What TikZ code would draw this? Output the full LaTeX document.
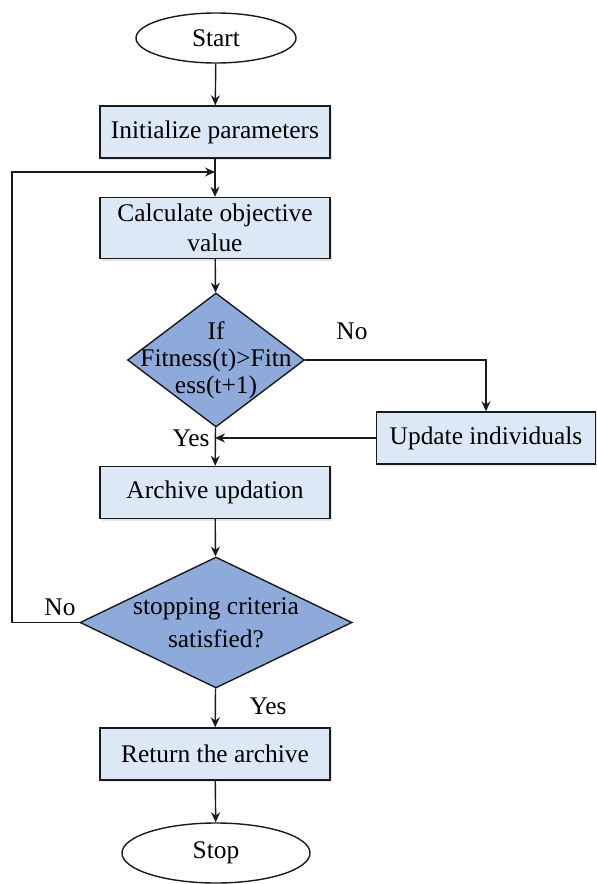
\documentclass[tikz,border=0pt]{standalone}
\usepackage{fontspec}
\setmainfont{Liberation Serif}
\usetikzlibrary{positioning,shapes.geometric,arrows.meta,shadows}
\definecolor{boxblue}{HTML}{DCE8F5}
\definecolor{decblue}{HTML}{8EAADB}
\definecolor{lineblk}{HTML}{1A1A1A}

\begin{document}
\begin{tikzpicture}[x=0.5pt,y=-0.5pt,
  every node/.append style={font=\fontsize{12.7}{15}\selectfont},
  fcbox/.style ={rectangle, draw=lineblk, fill=boxblue, line width=0.7pt, minimum width=115pt, minimum height=26pt, inner sep=0pt, align=center,
                 drop shadow={shadow xshift=1pt, shadow yshift=-1pt, opacity=0.2}},
  fcend/.style ={ellipse, draw=lineblk, fill=white, line width=0.7pt, inner sep=0pt},
  fcdec/.style ={diamond, draw=lineblk, fill=decblue, line width=0.7pt, inner sep=0pt},
  fctxt/.style ={align=center, inner sep=0pt},
  fcline/.style={draw=lineblk, line width=0.7pt},
  fcarrow/.style={fcline, -{Stealth[length=5pt,width=4.5pt]}},
]
\useasboundingbox (0,0) rectangle (597,884);
% main column
\node[fcend, minimum width=80pt, minimum height=25pt] (start) at (216,38) {Start};
\node[fcbox] (init) at (215,132) {Initialize parameters};
\node[fcbox, minimum height=30.5pt] (calc) at (215,228) {Calculate objective\\value};
\node[fcdec, minimum width=88.5pt, minimum height=67pt] (dec1) at (216,360) {};
\node[fctxt, font=\fontsize{12.7}{13.5}\selectfont] (dec1txt) at (dec1) {If\\Fitness(t)>Fitn\\ess(t+1)};
\node[fcbox, minimum width=109.5pt] (upd) at (486,438) {Update individuals};
\node[fcbox] (arch) at (215,492.5) {Archive updation};
\node[fcdec, minimum width=136pt, minimum height=65.5pt] (dec2) at (216,622.5) {};
\node[fctxt, font=\fontsize{12.7}{16.5}\selectfont] (dec2txt) at (dec2) {stopping criteria\\satisfied?};
\node[fcbox] (ret) at (215,754) {Return the archive};
\node[fcend, minimum width=94pt, minimum height=30pt] (stop) at (216,853) {Stop};
% helper points
\coordinate (join) at (215,172);
\coordinate (merge) at (215,438);
\coordinate (fbtop) at (12,172);
% connectors
\draw[fcarrow] (start) -- (init);
\draw[fcarrow] (init) -- (calc);
\draw[fcarrow] (calc) -- (dec1);
\draw[fcarrow] (dec1.east) -| (upd.north);
\draw[fcarrow] (upd) -- (merge);
\draw[fcarrow] (dec1) -- (arch);
\draw[fcarrow] (arch) -- (dec2);
\draw[fcarrow] (dec2.west) -| (fbtop) -- (join);
\draw[fcarrow] (dec2) -- (ret);
\draw[fcarrow] (ret) -- (stop);
% branch labels
\node (no1) at (352,331) {No};
\node (yes1) at (191,438) {Yes};
\node (no2) at (60,607) {No};
\node (yes2) at (268,706) {Yes};
\end{tikzpicture}
\end{document}
